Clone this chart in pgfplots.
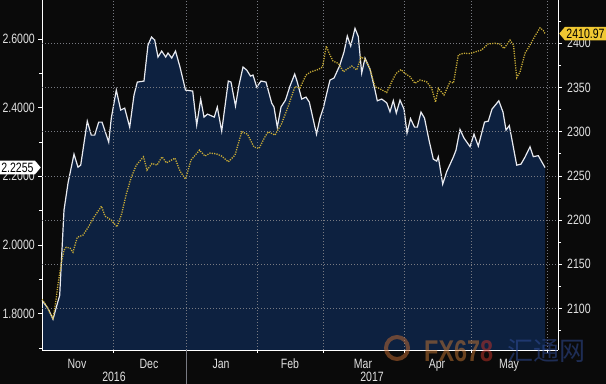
\documentclass[border=0pt]{standalone}
\usepackage{fontspec}
\setmainfont{Liberation Sans}[FakeStretch=0.78]
\newfontfamily\cjk{Noto Sans CJK SC}
\usepackage{pgfplots}
\usepackage{pgfplotstable}
\pgfplotsset{compat=1.18}
\usetikzlibrary{shapes.symbols}
\definecolor{bg}{RGB}{10,10,10}
\definecolor{navy}{RGB}{13,33,64}
\definecolor{wline}{RGB}{232,234,240}
\definecolor{yline}{RGB}{200,172,55}
\definecolor{gridc}{RGB}{120,122,130}
\definecolor{txt}{RGB}{225,225,225}
\definecolor{callyel}{RGB}{240,200,50}

\pgfplotstableread{
x y
0 1.8388
6 1.8155
11 1.7834
14.3 1.8184
17.7 1.8534
19.3 1.9466
22 2.1012
26 2.1799
32 2.2644
36 2.2265
38.7 2.2324
45.3 2.3606
49.3 2.3198
52.7 2.3198
56.7 2.3577
60 2.3577
66.7 2.2994
69.3 2.3694
74.3 2.4510
78.7 2.3927
82.7 2.3985
87.7 2.3431
92 2.4364
95.3 2.4743
102 2.4773
106 2.5822
109.5 2.6055
112.7 2.5968
116 2.5472
119.7 2.5647
123.7 2.5472
126 2.5589
129.7 2.5443
133.5 2.5647
138 2.5181
143.5 2.4510
150.7 2.4481
154.7 2.3490
158.7 2.4248
162 2.3723
165.5 2.3810
170 2.3752
172.3 2.3723
175.3 2.4015
179.7 2.3315
186.3 2.4773
189 2.4743
193.5 2.4044
197 2.4656
201 2.5181
204.7 2.5093
208.5 2.4918
211 2.4948
214.7 2.4598
219 2.4773
224 2.4743
229.7 2.4131
232 2.4015
235.3 2.3431
239 2.4015
243.5 2.4219
248 2.4627
252.7 2.4977
255.3 2.4743
259.7 2.4248
264 2.4306
267.3 2.4160
274.5 2.3227
278 2.3694
281.3 2.3985
285.3 2.4481
288 2.4802
292 2.4860
297.5 2.5210
302 2.5618
305.3 2.6085
308.7 2.5793
313 2.6309
316.3 2.6070
319.7 2.5006
323 2.5443
328 2.5122
333 2.4510
335.3 2.4198
339.7 2.4248
344.7 2.4140
348 2.3878
351.3 2.4204
354.3 2.3840
358 2.4219
362 2.3956
365 2.3257
368.5 2.3679
372.5 2.3431
375.3 2.3431
379 2.3869
382.5 2.3694
387 2.3052
391.3 2.2499
394.7 2.2440
396.3 2.2566
400.7 2.1770
404.7 2.2134
411.3 2.2557
414 2.2761
418 2.3364
422 2.3111
428 2.2863
432 2.3227
436.3 2.2878
442.5 2.3577
446.3 2.3606
450 2.3956
456.8 2.4198
461 2.3869
464 2.3344
467.3 2.3475
474.7 2.2324
479 2.2353
483 2.2557
488 2.2857
491.3 2.2571
496.3 2.2600
503 2.2255
}\yieldtable

\pgfplotstableread{
x y
0 2110.5
4 2103.7
8 2094.7
11 2089.0
14 2109.4
16 2127.5
19.5 2152.4
22 2166.0
24.3 2169.4
28 2168.3
31 2163.7
35.3 2180.7
41 2183.0
46 2191.5
52 2203.4
59.5 2215.8
63 2204.5
69.3 2200.0
75 2192.4
79.3 2205.6
84.3 2229.4
89.3 2248.6
94.3 2262.2
101.5 2271.6
105 2256.6
110 2264.1
115 2262.2
120 2271.6
124.5 2264.8
133 2270.1
138 2255.4
143.5 2246.4
149 2267.9
157.5 2279.2
163 2272.4
168 2275.8
174.3 2275.0
179.7 2272.4
186.3 2266.0
193 2273.5
199.7 2299.9
205.5 2297.3
212 2282.6
217 2281.1
223 2294.3
226.3 2299.9
233 2296.2
239.7 2309.4
246.3 2329.0
253 2351.1
258 2349.4
264 2364.1
269 2367.8
276 2370.3
280.5 2373.2
284.3 2396.9
287.5 2387.9
291 2380.0
296.5 2377.1
301.5 2367.8
305 2370.9
309.7 2374.3
314.7 2369.8
319 2384.5
323 2381.9
328 2370.9
333 2350.9
338 2348.5
344.7 2344.3
349.7 2356.5
354 2365.8
359 2370.3
363 2366.0
368 2362.2
373 2354.7
378 2358.5
384.7 2356.5
389.7 2349.1
393.5 2333.5
396.3 2349.1
402 2341.5
408 2356.5
411.5 2355.1
416.3 2386.8
421.5 2388.7
428 2388.5
434.5 2390.7
439.5 2392.4
446 2399.2
453 2400.0
458 2399.2
462 2394.1
468 2403.7
471.5 2398.1
474.7 2361.3
478 2367.5
483 2388.7
488 2398.1
493 2408.3
498 2417.5
501.3 2414.5
503 2410.97
}\spxtable

\begin{document}
\fontsize{13.5bp}{15bp}\selectfont
\begin{tikzpicture}
\fill[bg] (0,0) rectangle (606bp,384bp);
\begin{axis}[
  at={(42bp,34bp)}, anchor=south west,
  scale only axis, width=516bp, height=350bp,
  xmin=0, xmax=516, ymin=1.6939, ymax=2.7134,
  axis x line*=bottom, axis y line*=left,
  axis line style={draw=white, line width=0.8bp},
  axis on top,
  clip=false,
  tick align=outside,
  major tick length=4bp, minor tick length=3bp,
  every tick/.style={draw=white, line width=0.8bp},
  xtick={35,107,179,248,321,395,467},
  xticklabels={Nov,Dec,Jan,Feb,Mar,Apr,May},
  major x tick style={draw=none},
  minor xtick={71,144,215,281,362,429,505},
  xminorgrids=true,
  minor x grid style={draw=gridc, line width=0.7bp, dash pattern=on 1bp off 2bp},
  xticklabel style={anchor=base, inner sep=0pt, yshift=-14.5bp, text=txt},
  ytick={1.8,2.0,2.2,2.4,2.6},
  minor ytick={1.7,1.9,2.1,2.3,2.5},
  yticklabel style={anchor=east, inner sep=0pt, xshift=-3bp, text=txt,
    /pgf/number format/.cd, fixed, fixed zerofill, precision=4, assume math mode=true},
]
\addplot[fill=navy, draw=none] table[x=x,y=y] {\yieldtable} \closedcycle;
\addplot[wline, line width=1.2bp] table[x=x,y=y] {\yieldtable};
\coordinate (L) at (axis cs:0,2.2255);
\coordinate (J) at (axis cs:144,1.6939);
\coordinate (Y16) at (axis cs:72,1.6939);
\coordinate (Y17) at (axis cs:330,1.6939);
\end{axis}
\begin{axis}[
  at={(42bp,34bp)}, anchor=south west,
  scale only axis, width=516bp, height=350bp,
  xmin=0, xmax=516, ymin=2053.1, ymax=2449.0,
  hide x axis,
  axis y line*=right,
  axis line style={draw=white, line width=0.8bp},
  tick align=outside,
  major tick length=4bp, minor tick length=3bp,
  every tick/.style={draw=white, line width=0.8bp},
  ytick={2100,2150,2200,2250,2300,2350,2400},
  minor ytick={2075,2125,2175,2225,2275,2325,2375,2425},
  ymajorgrids=true,
  major y grid style={draw=gridc, line width=0.7bp, dash pattern=on 1bp off 2bp},
  yticklabel style={anchor=west, inner sep=0pt, xshift=5bp, text=txt,
    /pgf/number format/.cd, fixed, set thousands separator={}, assume math mode=true},
]
\addplot[yline, line width=1.3bp, dash pattern=on 1.2bp off 1.2bp] table[x=x,y=y] {\spxtable};
\coordinate (R) at (axis cs:516,2410.97);
\end{axis}
% year labels and separator
\draw[gridc, line width=0.8bp] (J) -- ++(0,-34bp);
\node[anchor=base, text=txt, inner sep=0pt] at ([yshift=-31bp]Y16) {2016};
\node[anchor=base, text=txt, inner sep=0pt] at ([yshift=-31bp]Y17) {2017};
% last-value callouts
\node[signal, signal to=east, signal pointer angle=100, fill=white, text=black,
  inner xsep=1.5bp, inner ysep=2bp, anchor=east] at ([xshift=-1bp]L) {2.2255};
\node[signal, signal to=west, signal pointer angle=100, fill=callyel, text=black,
  inner xsep=1.5bp, inner ysep=2bp, anchor=west] at ([xshift=1bp]R) {2410.97};
% watermark
\begin{scope}[opacity=0.5]
\draw[color={rgb,255:red,200;green,110;blue,50}, line width=4bp] (397bp,36bp) circle (11bp);
\node[anchor=base west, inner sep=0pt, font=\bfseries\fontsize{30bp}{30bp}\selectfont] at (424bp,23bp)
  {\textcolor[RGB]{200,120,50}{FX67}\textcolor[RGB]{200,50,40}{8}};
\node[anchor=base west, inner sep=0pt, text={rgb,255:red,50;green,80;blue,160}] at (507bp,24bp)
  {\cjk\fontsize{26bp}{26bp}\selectfont 汇通网};
\end{scope}
\pgfresetboundingbox
\path[use as bounding box] (0,0) rectangle (606bp,384bp);
\end{tikzpicture}
\end{document}
